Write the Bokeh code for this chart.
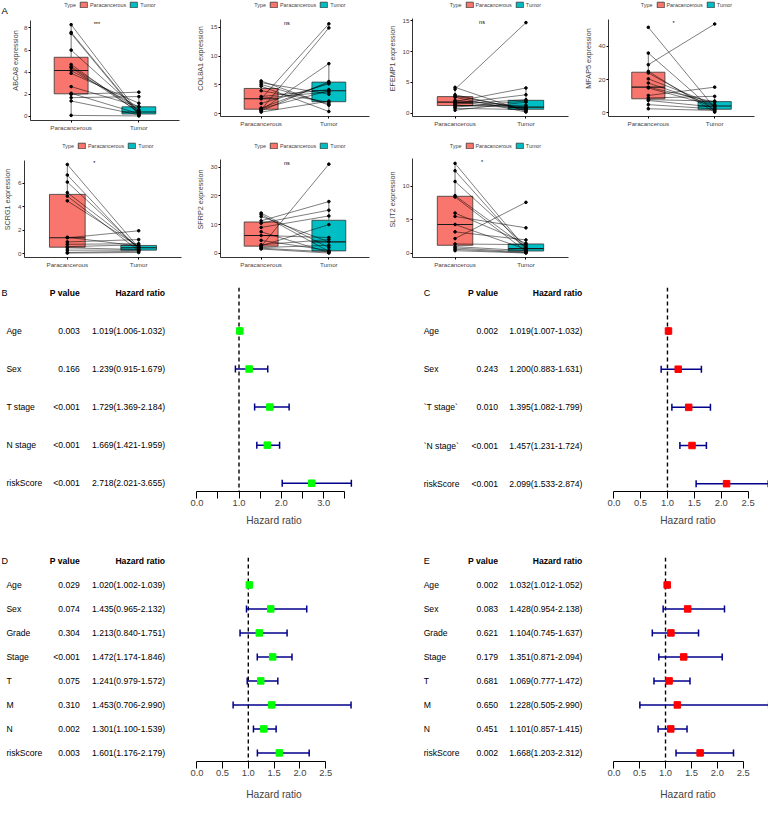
import numpy as np
from bokeh.plotting import figure
from bokeh.layouts import column, row
from bokeh.models import (ColumnDataSource, Range1d, Legend, LegendItem, FixedTicker,
                          Span, Whisker, TeeHead, Spacer, PrintfTickFormatter)
from bokeh.core.properties import value
from bokeh.embed import file_html
from bokeh.resources import INLINE

S = 768 / 784
FONT = "Liberation Sans"

# ---------------- Panel A: paired boxplots ----------------
groups = ["Paracancerous", "Tumor"]
group_colors = ["#F8766D", "#00BFC4"]

abca8_para = [8.3, 7.6, 7.5, 6.0, 4.7, 4.5, 4.4, 4.15, 3.9, 2.7, 2.1, 2.0, 1.7, 1.4, 0.1]
abca8_tumor = [0.3, 0.2, 0.1, 0.5, 0.35, 0.6, 0.4, 0.85, 1.2, 0.9, 0.25, 2.2, 1.8, 0.15, 0.05]

col8a1_para = [5.7, 5.4, 5.1, 4.8, 4.0, 3.0, 2.7, 2.6, 1.8, 1.0, 0.9, 0.7, 0.6, 0.5, 0.3]
col8a1_tumor = [1.5, 3.4, 1.7, 0.4, 2.0, 4.2, 3.8, 15.6, 5.2, 5.4, 4.0, 14.9, 8.7, 5.6, 2.2]

efemp1_para = [4.2, 3.9, 3.0, 2.8, 2.6, 2.1, 1.9, 1.8, 1.6, 1.5, 1.3, 1.2, 1.0, 0.8, 0.5]
efemp1_tumor = [0.3, 14.7, 0.5, 0.7, 0.2, 1.0, 4.1, 0.8, 3.0, 2.2, 0.9, 1.3, 2.0, 0.6, 1.8]

mfap5_para = [51.5, 36.0, 29.0, 25.0, 24.0, 20.5, 18.0, 15.5, 15.0, 10.5, 9.0, 8.0, 7.5, 5.0, 2.5]
mfap5_tumor = [3.0, 1.0, 53.5, 0.5, 2.0, 5.0, 4.5, 6.5, 4.2, 15.5, 10.0, 7.1, 3.5, 2.4, 1.5]

scrg1_para = [7.6, 6.7, 6.1, 5.2, 4.9, 4.5, 1.4, 1.35, 1.0, 0.8, 0.6, 0.5, 0.3, 0.1, 0.05]
scrg1_tumor = [0.5, 0.3, 0.45, 0.55, 0.25, 0.6, 0.65, 1.95, 1.2, 0.85, 0.75, 0.35, 0.3, 0.2, 0.1]

sfrp2_para = [14.0, 13.5, 12.8, 11.3, 10.5, 9.0, 7.5, 6.2, 4.5, 3.0, 2.6, 2.4, 2.0, 1.8, 1.5]
sfrp2_tumor = [2.0, 0.7, 4.0, 18.0, 15.0, 13.0, 0.3, 5.5, 1.0, 4.8, 10.0, 31.0, 2.8, 0.5, 0.1]

slit2_para = [13.4, 12.3, 10.7, 8.6, 8.4, 6.0, 5.5, 4.3, 3.2, 2.2, 1.4, 1.0, 0.8, 0.6, 0.4]
slit2_tumor = [0.7, 0.5, 1.1, 0.9, 0.3, 1.5, 3.8, 0.6, 2.0, 7.6, 1.3, 0.4, 0.2, 0.1, 0.05]

genes = ["ABCA8", "COL8A1", "EFEMP1", "MFAP5", "SCRG1", "SFRP2", "SLIT2"]
para_sets = [abca8_para, col8a1_para, efemp1_para, mfap5_para, scrg1_para, sfrp2_para, slit2_para]
tumor_sets = [abca8_tumor, col8a1_tumor, efemp1_tumor, mfap5_tumor, scrg1_tumor, sfrp2_tumor, slit2_tumor]
sig_labels = ["***", "ns", "ns", "*", "*", "ns", "*"]
ytick_sets = [[0, 2, 4, 6, 8], [0, 5, 10, 15], [0, 5, 10, 15], [0, 20, 40],
              [0, 2, 4, 6], [0, 10, 20, 30], [0, 5, 10]]

# ---------------- Forest plot data ----------------
vars_b = ["Age", "Sex", "T stage", "N stage", "riskScore"]
p_b = ["0.003", "0.166", "<0.001", "<0.001", "<0.001"]
hr_b = [1.019, 1.239, 1.729, 1.669, 2.718]
lo_b = [1.006, 0.915, 1.369, 1.421, 2.021]
hi_b = [1.032, 1.679, 2.184, 1.959, 3.655]

vars_c = ["Age", "Sex", "`T stage`", "`N stage`", "riskScore"]
p_c = ["0.002", "0.243", "0.010", "<0.001", "<0.001"]
hr_c = [1.019, 1.200, 1.395, 1.457, 2.099]
lo_c = [1.007, 0.883, 1.082, 1.231, 1.533]
hi_c = [1.032, 1.631, 1.799, 1.724, 2.874]

vars_de = ["Age", "Sex", "Grade", "Stage", "T", "M", "N", "riskScore"]
p_d = ["0.029", "0.074", "0.304", "<0.001", "0.075", "0.310", "0.002", "0.003"]
hr_d = [1.020, 1.435, 1.213, 1.472, 1.241, 1.453, 1.301, 1.601]
lo_d = [1.002, 0.965, 0.840, 1.174, 0.979, 0.706, 1.100, 1.176]
hi_d = [1.039, 2.132, 1.751, 1.846, 1.572, 2.990, 1.539, 2.179]

p_e = ["0.002", "0.083", "0.621", "0.179", "0.681", "0.650", "0.451", "0.002"]
hr_e = [1.032, 1.428, 1.104, 1.351, 1.069, 1.228, 1.101, 1.668]
lo_e = [1.012, 0.954, 0.745, 0.871, 0.777, 0.505, 0.857, 1.203]
hi_e = [1.052, 2.138, 1.637, 2.094, 1.472, 2.990, 1.415, 2.312]

ticks_b_major = [0.0, 1.0, 2.0, 3.0]
ticks_b_minor = [0.5, 1.5, 2.5, 3.5]
ticks_cde = [0.0, 0.5, 1.0, 1.5, 2.0, 2.5]

BOXLINE = "#333333"


def box_panel(gene, para, tumor, yticks, sig, geom, leg_y, off=0):
    L, R, top, bot = geom
    W, H = 192 - off, 137
    para = np.asarray(para, float)
    tumor = np.asarray(tumor, float)
    allv = np.concatenate([para, tumor])
    dmin, dmax = allv.min(), allv.max()
    rng = dmax - dmin
    lo, hi = dmin - 0.05 * rng, dmax + 0.05 * rng
    bt = max(0, round(leg_y * S - 5.5))
    bb = round((140 - bot) * S)
    bl = round(L * S) - off
    br = round((196 - R) * S)
    fb = H - bb
    at = top * S
    k = (hi - lo) / (fb - at)
    yend = hi + (at - bt) * k
    p = figure(width=W, height=H, x_range=Range1d(0.4, 2.6), y_range=Range1d(lo, yend),
               output_backend="svg", toolbar_location=None,
               min_border_left=bl, min_border_right=br,
               min_border_top=bt, min_border_bottom=bb)
    p.outline_line_color = None
    p.grid.visible = False

    pos = list(range(1, len(groups) + 1))
    stats = []
    for v in (para, tumor):
        q1, med, q3 = np.percentile(v, [25, 50, 75])
        iqr = q3 - q1
        up = v[v <= q3 + 1.5 * iqr].max()
        dn = v[v >= q1 - 1.5 * iqr].min()
        stats.append((q1, med, q3, up, dn))
    box = ColumnDataSource(dict(
        x=pos, xl=[x - 0.25 for x in pos], xr=[x + 0.25 for x in pos],
        q1=[s[0] for s in stats], med=[s[1] for s in stats], q3=[s[2] for s in stats],
        up=[s[3] for s in stats], dn=[s[4] for s in stats], color=group_colors))
    p.segment(x0="x", x1="x", y0="q3", y1="up", source=box, line_color=BOXLINE, line_width=0.7)
    p.segment(x0="x", x1="x", y0="q1", y1="dn", source=box, line_color=BOXLINE, line_width=0.7)
    rb = p.vbar(x="x", width=0.5, top="q3", bottom="q1", fill_color="color",
                line_color=BOXLINE, line_width=0.8, source=box)
    p.segment(x0="xl", x1="xr", y0="med", y1="med", source=box, line_color="#1a1a1a", line_width=1.1)

    n = len(para)
    pairs = ColumnDataSource(dict(x0=[pos[0]] * n, x1=[pos[1]] * n, y0=list(para), y1=list(tumor)))
    p.segment(x0="x0", y0="y0", x1="x1", y1="y1", source=pairs, line_color="black",
              line_width=0.6, line_alpha=0.85)
    pts = ColumnDataSource(dict(x=[pos[0]] * n + [pos[1]] * n, y=list(allv)))
    p.scatter("x", "y", source=pts, size=2.6, color="black")

    p.text(x=[1.38], y=[dmax], text=[sig], text_align="center", text_baseline="alphabetic",
           text_font_size="5.5px", text_font=value(FONT), text_color="black", y_offset=-1)

    dummy = p.scatter(x=[], y=[], alpha=0)
    leg = Legend(items=[LegendItem(label="Type", renderers=[dummy]),
                        LegendItem(label=groups[0], renderers=[rb], index=0),
                        LegendItem(label=groups[1], renderers=[rb], index=1)],
                 location="top_center", orientation="horizontal",
                 label_text_font_size="5.4px", label_text_font=FONT,
                 glyph_width=9, glyph_height=7, label_height=7, label_width=4,
                 label_standoff=2, spacing=3, padding=1, margin=1,
                 border_line_color=None, background_fill_alpha=0)
    p.add_layout(leg)

    ya = p.yaxis[0]
    ya.bounds = (lo, hi)
    ya.ticker = FixedTicker(ticks=yticks)
    ya.axis_label = f"{gene} expression"
    ya.axis_label_text_font_size = "7.2px"
    ya.axis_label_text_font_style = "normal"
    ya.axis_label_text_font = FONT
    ya.axis_label_standoff = 1 if off else 3
    ya.major_label_text_font_size = "6.2px"
    ya.major_label_text_font = FONT
    ya.major_label_standoff = 1
    ya.major_tick_out = 2
    ya.major_tick_in = 0
    ya.minor_tick_line_color = None
    ya.axis_line_width = 0.8

    xa = p.xaxis[0]
    xa.ticker = FixedTicker(ticks=pos)
    xa.major_label_overrides = {pos[0]: groups[0], pos[1]: groups[1]}
    xa.major_label_text_font_size = "6.2px"
    xa.major_label_text_font = FONT
    xa.major_label_standoff = 1
    xa.major_tick_out = 2
    xa.major_tick_in = 0
    xa.minor_tick_line_color = None
    xa.axis_line_width = 0.8
    return p


def letter_strip(letter, w, h, ly):
    f = figure(width=w, height=h, x_range=Range1d(0, w), y_range=Range1d(0, h),
               x_axis_location=None, y_axis_location=None,
               min_border_left=0, min_border_right=0, min_border_top=0, min_border_bottom=0,
               output_backend="svg", toolbar_location=None)
    f.outline_line_color = None
    f.grid.visible = False
    f.text(x=[1 * S], y=[h - ly * S], text=[letter], text_align="left", text_baseline="middle",
           text_font_size="9.5px", text_font=value(FONT), text_color="black")
    return f


def forest_panel(W, H, geo, vars_, pvals, hr, lo, hi, color, letter, major, minor, bounds, tstand):
    zero, unit, ftop, axis_y, row0, dy, letter_x, label_x, p_x, hr_x = geo
    mx = max(hi)
    fx0, fx1 = -0.04 * mx, 1.04 * mx
    tw = round(S * (zero + fx0 * unit))
    fw = W - tw
    need = S * (fx1 - fx0) * unit
    if need <= fw:
        frame_w = round(need)
        brd = fw - frame_w
    else:
        frame_w = fw
        brd = 0
    xend = fx0 + frame_w / (S * unit)
    ytop = -(ftop - row0) / dy
    ybot = -(axis_y - row0) / dy
    bt = round(ftop * S)
    bb = H - round(axis_y * S)

    n = len(vars_)
    src = ColumnDataSource(dict(
        y=[-i for i in range(n)], var=vars_, p=pvals,
        hrtxt=[f"{h:.3f}({l:.3f}-{u:.3f})" for h, l, u in zip(hr, lo, hi)],
        hr=hr, lo=lo, hi=hi))

    # text table
    t = figure(width=tw, height=H, x_range=Range1d(0, tw), y_range=Range1d(ybot, ytop),
               x_axis_location=None, y_axis_location=None,
               min_border_left=0, min_border_right=0, min_border_top=bt, min_border_bottom=bb,
               output_backend="svg", toolbar_location=None)
    t.outline_line_color = None
    t.grid.visible = False
    fs = "8.6px"
    t.text(x=label_x * S, y="y", text="var", source=src, text_align="left", text_baseline="middle",
           text_font_size=fs, text_font=value(FONT), text_color="black")
    t.text(x=p_x * S, y="y", text="p", source=src, text_align="right", text_baseline="middle",
           text_font_size=fs, text_font=value(FONT), text_color="black")
    t.text(x=hr_x * S, y="y", text="hrtxt", source=src, text_align="right", text_baseline="middle",
           text_font_size=fs, text_font=value(FONT), text_color="black")
    t.text(x=[p_x * S, hr_x * S], y=[1, 1], text=["P value", "Hazard ratio"], text_align="right",
           text_baseline="middle", text_font_size=fs, text_font=value(FONT),
           text_font_style="bold", text_color="black")
    t.text(x=[letter_x * S], y=[1], text=[letter], text_align="left", text_baseline="middle",
           text_font_size="9px", text_font=value(FONT), text_color="black")

    # forest
    p = figure(width=fw, height=H, x_range=Range1d(fx0, xend), y_range=Range1d(ybot, ytop),
               y_axis_location=None, min_border_left=0, min_border_right=brd,
               min_border_top=bt, min_border_bottom=bb,
               output_backend="svg", toolbar_location=None)
    p.outline_line_color = None
    p.grid.visible = False
    p.add_layout(Span(location=1, dimension="height", line_color="black", line_width=1.4,
                      line_dash="4 3", level="underlay"))
    ci = "#00008B"
    p.add_layout(Whisker(source=src, base="y", lower="lo", upper="hi", dimension="width",
                         line_color=ci, line_width=1.5, level="underlay",
                         lower_head=TeeHead(size=7, line_color=ci, line_width=1.5),
                         upper_head=TeeHead(size=7, line_color=ci, line_width=1.5)))
    p.scatter(x="hr", y="y", source=src, marker="square", size=6.5,
              fill_color=color, line_color=color)

    xa = p.xaxis[0]
    xa.bounds = bounds
    xa.ticker = FixedTicker(ticks=major, minor_ticks=minor)
    xa.formatter = PrintfTickFormatter(format="%.1f")
    xa.major_tick_out = 7
    xa.major_tick_in = 0
    xa.minor_tick_out = 7
    xa.minor_tick_in = 0
    xa.minor_tick_line_color = "black"
    xa.major_label_text_font_size = "9.4px"
    xa.major_label_text_font = FONT
    xa.major_label_standoff = 1
    xa.axis_label = "Hazard ratio"
    xa.axis_label_text_font_size = "10.2px"
    xa.axis_label_text_font_style = "normal"
    xa.axis_label_text_font = FONT
    xa.axis_label_standoff = tstand
    xa.axis_line_width = 1
    return row(t, p)


box_geoms = [(19, 183, 20, 123), (18, 181, 20, 123), (27, 188, 18, 119), (33, 182, 20, 122),
             (23, 185, 23, 123), (22, 181, 23, 125), (27, 188, 22, 124)]
leg_ys = [6, 6, 4, 6, 10, 10, 10]

LETTER_W = 8
boxes = []
for i, g in enumerate(genes):
    boxes.append(box_panel(g, para_sets[i], tumor_sets[i], ytick_sets[i], sig_labels[i],
                           box_geoms[i], leg_ys[i], off=LETTER_W if i == 0 else 0))
panel_a1 = row(letter_strip("A", LETTER_W, 137, 12), boxes[0])

geo_b = (200, 43.2, 13, 222, 57.5, 39, 1, 6, 81, 168)
geo_c = (236, 54.9, 13, 221.5, 57.5, 39, 42, 42, 118, 204)
geo_d = (200, 52.7, 29, 237.3, 57, 24.5, 1, 6, 81, 168)
geo_e = (236, 52.9, 29, 237.3, 57, 24.5, 42, 42, 118, 204)

pB = forest_panel(382, 255, geo_b, vars_b, p_b, hr_b, lo_b, hi_b, "#00FF00", "B",
                  ticks_b_major, ticks_b_minor, (0, 3.5), 6)
pC = forest_panel(386, 255, geo_c, vars_c, p_c, hr_c, lo_c, hi_c, "#FF0000", "C",
                  ticks_cde, [], (0, 2.5), 6)
pD = forest_panel(382, 273, geo_d, vars_de, p_d, hr_d, lo_d, hi_d, "#00FF00", "D",
                  ticks_cde, [], (0, 2.5), 10)
pE = forest_panel(386, 273, geo_e, vars_de, p_e, hr_e, lo_e, hi_e, "#FF0000", "E",
                  ticks_cde, [], (0, 2.5), 10)

layout = column(
    row(panel_a1, boxes[1], boxes[2], boxes[3]),
    row(boxes[4], boxes[5], boxes[6], Spacer(width=192, height=137)),
    row(pB, pC),
    row(pD, pE),
)

open("out.html", "w").write(file_html(layout, INLINE))
